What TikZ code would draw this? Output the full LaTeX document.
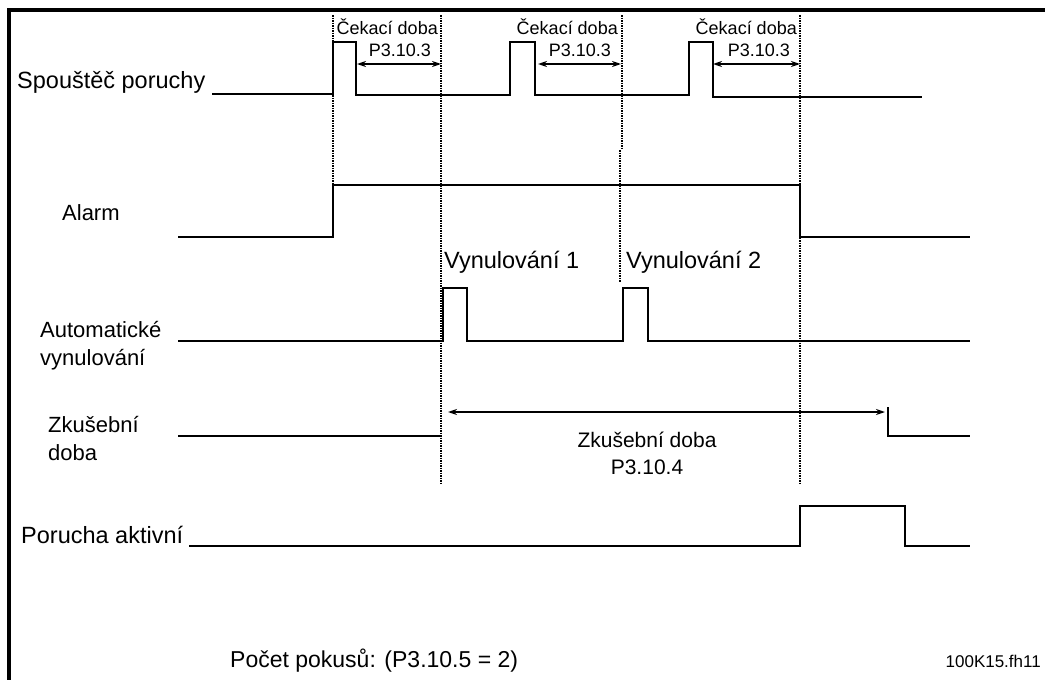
\documentclass[tikz,border=0pt]{standalone}
\usepackage{fontspec}
\setmainfont{Liberation Sans}
\usetikzlibrary{arrows.meta}
\tikzset{
  signal/.style={line width=2pt, line join=miter},
  guide/.style={line width=1.5pt, dash pattern=on 1.5pt off 1pt},
  siglabel/.style={anchor=west, inner sep=0pt, align=left, font=\fontsize{22}{28}\selectfont},
  biglabel/.style={siglabel, font=\fontsize{23.5}{28}\selectfont},
  waitnote/.style={anchor=east, inner sep=0pt, font=\fontsize{18}{20}\selectfont},
  dimarrow/.style={<->, line width=1.5pt},
}
\begin{document}
\begin{tikzpicture}[x=1pt, y=-1pt, >={Stealth[length=9pt,width=6pt]}]
\useasboundingbox (0,0) rectangle (1045,680);
% ramecek
\draw[line width=3.5pt] (9,680) -- (9,10) -- (1045,10);
% casove znacky
\coordinate (t1) at (333,15);
\coordinate (t2) at (441,15);
\coordinate (t3) at (622,15);
\coordinate (t4) at (800,15);
\draw[guide] (t1) -- ++(0,170);
\draw[guide] (t2) -- ++(0,470);
\draw[guide] (t3) -- ++(0,133);
\draw[guide] (620,150) -- (620,282);
\draw[guide] (t4) -- ++(0,470);
% popisy signalu
\node[biglabel] (trig) at (17,82) {Spouštěč poruchy};
\node[siglabel] (alarm) at (62,213) {Alarm};
\node[siglabel] (auto) at (40,346) {Automatické\\vynulování};
\node[siglabel] (trial) at (48,439) {Zkušební\\doba};
\node[biglabel] (fault) at (21,535) {Porucha aktivní};
% prubehy
\draw[signal] (212,94) -| (333,42) -| (356,95) -| (510,42) -| (535,95) -| (689,42) -| (713,97) -- (922,97);
\draw[signal] (178,237) -| (333,185) -| (800,237) -- (970,237);
\draw[signal] (178,341) -| (443,288) -| (467,341) -| (623,288) -| (648,341) -- (970,341);
\draw[signal] (178,436) -- (440,436);
\draw[signal] (888,407) |- (970,436);
\draw[signal] (189,546) -| (800,506) -| (905,546) -- (970,546);
% cekaci doby
\foreach \a/\b/\i in {357/441/1, 538/621/2, 713/800/3} {
  \node[waitnote] (wait\i) at (\b-3,27) {Čekací doba};
  \node[waitnote] (par\i) at (\b-10,50) {P3.10.3};
  \draw[dimarrow] (\a,64) -- (\b,64);
}
% vynulovani
\node[biglabel] (reset1) at (444,262) {Vynulování 1};
\node[biglabel] (reset2) at (626,262) {Vynulování 2};
% zkusebni doba
\draw[dimarrow] (448,412) -- (885,412);
\node[inner sep=0pt, align=center, font=\fontsize{21}{27}\selectfont] (trialtxt) at (647,453) {Zkušební doba\\P3.10.4};
% paticka
\node[siglabel, font=\fontsize{23}{28}\selectfont] (tries) at (230,661) {Počet pokusů: (P3.10.5 = 2)};
\node[waitnote, font=\fontsize{17}{20}\selectfont] (fig) at (1041,661) {100K15.fh11};
\end{tikzpicture}
\end{document}
